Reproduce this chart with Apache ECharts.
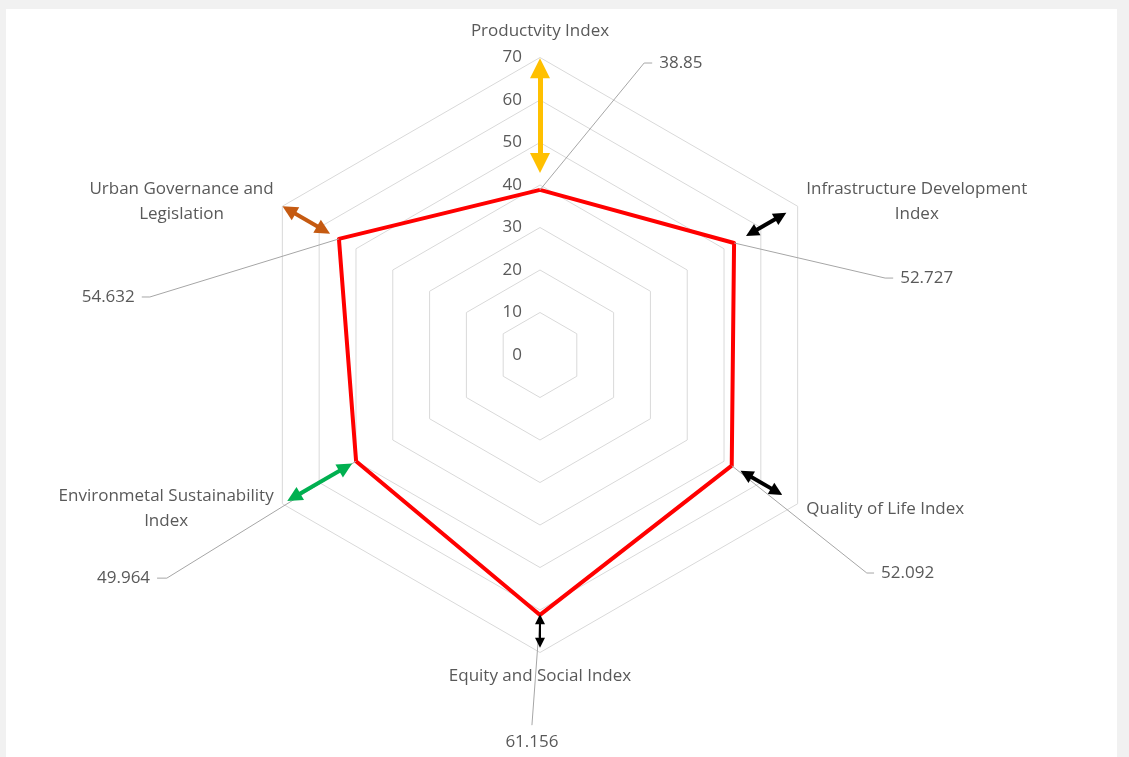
<!DOCTYPE html>
<html>
<head>
<meta charset="utf-8">
<script src="https://cdn.jsdelivr.net/npm/echarts@6/dist/echarts.min.js"></script>
<style>
  html, body { margin: 0; padding: 0; background: #f1f1f1; }
  #sheet { position: absolute; left: 6px; top: 9px; width: 1111px; height: 748px; background: #fff; }
  #chart { position: absolute; left: 0; top: 0; width: 1129px; height: 757px; }
</style>
</head>
<body>
<div id="sheet"></div>
<div id="chart"></div>
<script>
// indicators, counter-clockwise from the top (ECharts radar order)
const categories = [
  'Productvity Index',
  'Urban Governance and\nLegislation',
  'Environmetal Sustainability\nIndex',
  'Equity and Social Index',
  'Quality of Life Index',
  'Infrastructure Development\nIndex'
];
const values = [38.85, 54.632, 49.964, 61.156, 52.092, 52.727];
const axisMax = 70;

// double-headed arrows along each axis (start / end value, head centres)
const arrowFrom = [45.2, 58.8, 52.8, 62.2, 56.0, 57.5];
const arrowTo = [67.5, 68.2, 66.9, 67.7, 64.3, 65.4];

// styling / layout (not data)
const arrowColors = ['#ffc000', '#c55a11', '#00b050', '#000000', '#000000', '#000000'];
const arrowWidths = [5, 4, 4, 2, 4, 4];
const arrowHeads = [20, 15, 15, 10, 13, 13];
// leader line elbow and end (in value units of the overlay grid), label side
const leaderElbow = [[24.5, 68.7], [-91.8, 13.65], [-87.8, -52.5], null, [76.9, -51.3], [81.2, 18.1]];
const leaderEnd = [[26.4, 68.7], [-93.7, 13.65], [-90.1, -52.5], [-1.9, -87.1], [78.6, -51.3], [83.1, 18.1]];
const labelSide = ['right', 'left', 'left', 'bottom', 'right', 'right'];

const textColor = '#595959';
const font = 'Open Sans';
const fontSize = 17;
const cx = 540, cy = 355, R = 297.5;

const chart = echarts.init(document.getElementById('chart'));

const toXY = (v, i) => {
  const a = (90 + i * 360 / categories.length) * Math.PI / 180;
  return [v * Math.cos(a), v * Math.sin(a)];
};

const nameFormatter = (name) => {
  const lines = name.split('\n');
  const style = name === categories[0] ? 'top' : (name === categories[3] ? 'bottom' : 'c');
  return lines.map(l => '{' + style + '|' + l + '}').join('\n');
};

const arrowSeries = arrowFrom.map((from, i) => ({
  type: 'lines',
  coordinateSystem: 'cartesian2d',
  clip: false,
  z: 5,
  symbol: ['triangle', 'triangle'],
  symbolSize: arrowHeads[i],
  lineStyle: { color: arrowColors[i], width: arrowWidths[i], opacity: 1, curveness: 0 },
  silent: true,
  data: [{ coords: [toXY(from, i), toXY(arrowTo[i], i)] }]
}));

const option = {
  backgroundColor: 'transparent',
  animation: false,
  textStyle: { fontFamily: font },
  grid: { left: cx - R, top: cy - R, width: 2 * R, height: 2 * R },
  xAxis: { type: 'value', min: -axisMax, max: axisMax, show: false },
  yAxis: { type: 'value', min: -axisMax, max: axisMax, show: false },
  radar: {
    center: [cx, cy],
    radius: R,
    startAngle: 90,
    shape: 'polygon',
    splitNumber: 7,
    nameGap: 10,
    indicator: categories.map((name, i) => i === 0
      ? { name, min: 0, max: axisMax, axisLabel: { show: true } }
      : { name, min: 0, max: axisMax }),
    axisName: {
      color: textColor,
      fontSize: fontSize,
      fontFamily: font,
      formatter: nameFormatter,
      rich: {
        c: { align: 'center', lineHeight: 25, color: textColor, fontSize: fontSize, fontFamily: font },
        top: { align: 'center', color: textColor, fontSize: fontSize, fontFamily: font, padding: [0, 0, 8, 0] },
        bottom: { align: 'center', color: textColor, fontSize: fontSize, fontFamily: font, padding: [5, 0, 0, 0] }
      }
    },
    axisLine: { show: false },
    axisTick: { show: false },
    axisLabel: { show: false, color: textColor, fontSize: fontSize, fontFamily: font, margin: 18 },
    splitLine: { lineStyle: { color: '#d9d9d9', width: 1 } },
    splitArea: { show: false }
  },
  series: [
    {
      type: 'radar',
      symbol: 'none',
      z: 3,
      lineStyle: { color: '#ff0000', width: 4 },
      data: [{ value: values, name: 'Index' }]
    },
    {
      type: 'lines',
      coordinateSystem: 'cartesian2d',
      polyline: true,
      clip: false,
      z: 4,
      silent: true,
      lineStyle: { color: '#a6a6a6', width: 1, opacity: 1 },
      data: values.map((v, i) => ({
        coords: [toXY(v, i)].concat(leaderElbow[i] ? [leaderElbow[i]] : []).concat([leaderEnd[i]])
      }))
    },
    {
      type: 'scatter',
      clip: false,
      z: 6,
      symbolSize: 0,
      silent: true,
      itemStyle: { opacity: 1 },
      data: values.map((v, i) => ({
        value: leaderEnd[i],
        label: {
          show: true,
          position: labelSide[i],
          distance: labelSide[i] === 'bottom' ? 8 : 7,
          formatter: String(v),
          color: textColor,
          fontSize: fontSize,
          fontFamily: font
        }
      }))
    }
  ].concat(arrowSeries)
};

chart.setOption(option);
window.addEventListener('resize', () => chart.resize());
</script>
</body>
</html>
